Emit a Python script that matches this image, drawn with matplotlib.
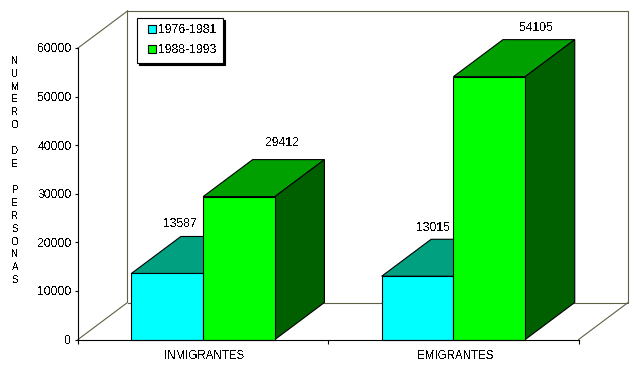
import matplotlib
matplotlib.use("Agg")
import matplotlib.pyplot as plt
from matplotlib.patches import Polygon, Patch, Rectangle
from matplotlib.legend_handler import HandlerPatch
from matplotlib.transforms import offset_copy

plt.rcParams['font.family'] = ['Liberation Sans', 'DejaVu Sans']
plt.rcParams['text.antialiased'] = False

categories = ["INMIGRANTES", "EMIGRANTES"]
series_names = ["1976-1981", "1988-1993"]
values_1976 = [13587, 13015]
values_1988 = [29412, 54105]
yticks = [0, 10000, 20000, 30000, 40000, 50000, 60000]
axis_title = "N\nU\nM\nE\nR\nO\n\nD\nE\n\nP\nE\nR\nS\nO\nN\nA\nS"

W, H = 642, 367
fig = plt.figure(figsize=(W/100, H/100), dpi=100, facecolor='white')
L, R, B, T = 78, 578.6, 339.5, 48
ax = fig.add_axes([L/W, 1-B/H, (R-L)/W, (B-T)/H])
ax.set_xlim(0, 2)
ax.set_ylim(0, 60000)
ax.patch.set_alpha(0)

# depth of the 3D projection, in data units
DX = 49.5/(R-L)*2
DY = 37/(B-T)*60000
BW = 71.8/(R-L)*2

wall = '#5f5f45'
lw = 0.8
ax.plot([0, DX, DX], [0, DY, 60000+DY], color=wall, lw=lw, clip_on=False, zorder=1)
ax.plot([0, DX], [60000, 60000+DY], color=wall, lw=lw, clip_on=False, zorder=1)
ax.plot([DX, 2+DX, 2+DX, DX], [60000+DY, 60000+DY, DY, DY], color=wall, lw=lw, clip_on=False, zorder=1)
ax.plot([2, 2+DX], [0, DY], color=wall, lw=lw, clip_on=False, zorder=1)

def box3d(x0, v, front, top, side, z):
    x1 = x0+BW
    ax.add_patch(Polygon([(x0, v), (x0+DX, v+DY), (x1+DX, v+DY), (x1, v)], closed=True,
                         fc=top, ec='black', lw=lw, clip_on=False, zorder=z))
    ax.add_patch(Polygon([(x1, 0), (x1+DX, DY), (x1+DX, v+DY), (x1, v)], closed=True,
                         fc=side, ec='black', lw=lw, clip_on=False, zorder=z))
    ax.bar([x0], [v], width=BW, align='edge', color=front, edgecolor='black', lw=lw,
           clip_on=False, zorder=z+0.5)

def value_label(x, v, dx_px, dy_px):
    tr = offset_copy(ax.transData, fig=fig, x=dx_px, y=dy_px, units='dots')
    ax.text(x, v+DY, str(v), transform=tr, ha='center', va='center', fontsize=8.8, zorder=5)

label_shift_1976 = [(12.5, 12), (15.5, 11)]
label_shift_1988 = [(43.5, 17), (47.5, 12)]
for i in range(2):
    c = i+0.5
    box3d(c-BW, values_1976[i], '#00ffff', '#00a080', '#006060', 2)
    box3d(c, values_1988[i], '#00ff00', '#00a000', '#006000', 3)
    value_label(c-BW/2, values_1976[i], *label_shift_1976[i])
    value_label(c+BW/2, values_1988[i], *label_shift_1988[i])

for s in ['top', 'right']:
    ax.spines[s].set_visible(False)
for s in ['left', 'bottom']:
    ax.spines[s].set_linewidth(lw)
    ax.spines[s].set_zorder(6)
ax.set_yticks(yticks)
ax.set_yticklabels([str(v) for v in yticks], fontsize=8.7)
ax.set_xticks([0, 1, 2])
ax.set_xticklabels([])
ax.set_xticks([0.505, 1.505], minor=True)
ax.set_xticklabels(categories, minor=True, fontsize=8.3)
ax.tick_params(axis='x', which='minor', length=0, pad=7.5)
ax.tick_params(axis='x', which='major', length=3, width=lw)
ax.tick_params(axis='y', length=2.5, width=lw, pad=2)

fig.text(15/W, 1-170.5/H, axis_title, ha='center', va='center', fontsize=7, linespacing=1.365)

def swatch(legend, orig_handle, xdescent, ydescent, width, height, fontsize):
    return Rectangle((-xdescent+width-5.76, -ydescent), 5.76, 5.76)

handles = [Patch(fc='#00ffff', ec='black', lw=lw, label=series_names[0]),
           Patch(fc='#00ff00', ec='black', lw=lw, label=series_names[1])]
leg = fig.legend(handles=handles, loc='upper left', bbox_to_anchor=(136.5/W, 1-18/H), borderaxespad=0,
                 fontsize=8.8, fancybox=False, edgecolor='black', framealpha=1,
                 shadow={'color': 'black', 'alpha': 1, 'ox': 1.5, 'oy': -1.5},
                 handler_map={Patch: HandlerPatch(patch_func=swatch)},
                 handlelength=1.05, handleheight=0.67, handletextpad=0.16, labelspacing=0.62, borderpad=0.53)
leg.get_frame().set_linewidth(lw)
fig.savefig('out.png', dpi=100, facecolor='white')
